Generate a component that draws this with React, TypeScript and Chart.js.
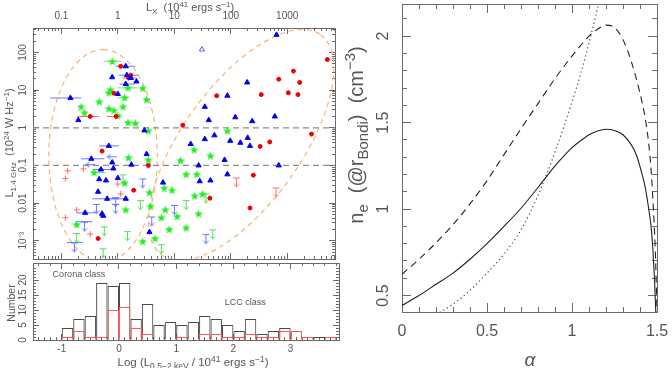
import React, { useEffect, useRef } from "react";
import { Chart, registerables } from "chart.js";

Chart.register(...registerables);

const FONT = "'Liberation Sans', Arial, sans-serif";
const AXIS_COLOR = "#6a6a6a";
const TEXT_COLOR = "#555555";
const BLUE = "#0000f0";
const RED = "#f00000";
const GREEN = "#22ee22";

// ================= LEFT: L1.4GHz vs L_X scatter =================
const LOGX_MIN = -1.503;
const LOGX_MAX = 3.846;
const LR_MIN = 3.27e-4;
const LR_MAX = 447;

// blue filled triangles (x = log L_X, y = L_1.4GHz)
const blueTriX = [2.81, 0.14, -0.1, 0.16, 0.23, 0.33, 0.14, 0.0, -0.84, 1.54, 1.94, 2.29, 1.61, 2.08, 2.38, 2.78, -0.7, 0.47, 1.29, 1.54, 1.71, 1.99, 2.17, 2.3, 2.34, -0.16, 0.51, -0.47, -0.1, 0.24, -0.3, -0.08, 1.43, 1.89, 2.85, -0.33, -0.21, 0.0, 0.8, 1.45, 1.64, 1.94, -0.35, -0.19, 0.14, -0.58, -0.28, -0.26, 0.56];
const blueTriY = [295, 43, 22, 25, 21, 17, 14.5, 7.9, 6.2, 3.6, 7.1, 16, 1.6, 1.9, 1.5, 2.0, 1.6, 0.85, 0.37, 0.5, 0.63, 0.45, 0.4, 0.54, 0.33, 0.33, 0.2, 0.15, 0.12, 0.105, 0.078, 0.083, 0.1, 0.14, 0.1, 0.043, 0.04, 0.046, 0.035, 0.038, 0.04, 0.058, 0.02, 0.013, 0.013, 0.0055, 0.0052, 0.0046, 0.0017];
// open blue triangle
const openTriX = [1.49];
const openTriY = [120];
// red circles
const redX = [0.05, 0.23, 0.19, -0.07, -0.49, -0.03, 1.15, 1.75, 2.54, 2.85, 3.11, 3.22, 3.02, 3.19, 3.71, -0.28, 0.54, 2.52, 2.69, 3.43, 2.4, 0.28, 1.63, 2.34, -0.35];
const redY = [43, 25, 21, 8.3, 2.0, 2.0, 1.17, 7.1, 7.6, 19.5, 32, 16, 8.5, 7.6, 65, 0.24, 0.1, 0.32, 0.42, 0.68, 0.055, 0.022, 0.0135, 0.0074, 0.00115];
// green stars
const greenX = [-0.1, 0.18, 0.44, -0.13, -0.16, 0.12, -0.33, 0.51, -0.65, -0.16, -0.07, 0.09, -0.59, 0.0, 0.18, 0.31, 0.54, 1.94, 1.35, 0.19, 0.54, 1.11, 1.64, -0.42, 1.21, 1.4, 0.12, 0.82, 0.96, 0.56, 1.36, 1.5, 0.58, 0.14, 0.84, 1.05, 0.77, 1.43, -0.73, 1.21, 0.91, 0.66, 0.44];
const greenY = [58, 11.5, 11.2, 10.2, 8.5, 6.3, 4.9, 5.6, 3.6, 3.2, 2.9, 3.6, 2.5, 2.1, 1.38, 1.32, 0.83, 0.83, 0.26, 0.16, 0.14, 0.135, 0.18, 0.065, 0.058, 0.058, 0.034, 0.025, 0.022, 0.019, 0.0155, 0.0174, 0.0083, 0.0066, 0.0066, 0.0044, 0.0041, 0.0052, 0.0027, 0.0022, 0.002, 0.00115, 0.00095];
// light red crosses
const plusX = [-0.89, -0.93, -0.61, 0.0, 0.05, -0.73, -0.93, -0.49];
const plusY = [0.072, 0.045, 0.081, 0.032, 0.0174, 0.0066, 0.0041, 0.0015];
// radio upper limits
const blueLimX = [0.44, -0.38, -0.04, 0.6, 1.0, -0.59, 1.56, -0.77, -0.04];
const blueLimY = [0.045, 0.0095, 0.0095, 0.0044, 0.0089, 0.0032, 0.0015, 0.0009, 0.0145];
const greenLimX = [0.09, 0.4, 1.21, -0.24, -0.73, 0.17, 1.56, 1.68, 0.77, -0.26];
const greenLimY = [0.058, 0.012, 0.012, 0.0024, 0.0016, 0.0018, 0.018, 0.002, 0.00081, 0.00063];
const redLimX = [2.1, 2.8];
const redLimY = [0.048, 0.026];
// X-ray upper limits (left arrows)
const blueLeftX = [-0.4, -0.02];
const blueLeftY = [0.105, 0.17];
// horizontal error bars
const blueErrY = [6.2, 43, 25, 14.5, 0.33, 0.15, 0.078, 0.013, 0.013, 0.0055, 0.0032, 0.0009];
const blueErrLo = [-1.2, -0.04, 0.02, 0.03, -0.33, -0.65, -0.45, -0.45, -0.12, -0.73, -0.75, -0.9];
const blueErrHi = [-0.65, 0.31, 0.37, 0.3, 0.02, -0.24, -0.1, 0.02, 0.19, -0.38, -0.45, -0.62];
const redErrY = [21, 2.0, 2.0];
const redErrLo = [0.08, -0.72, -0.19];
const redErrHi = [0.33, -0.33, 0.05];
const greenErrY = [58, 11.5, 0.065, 6.3];
const greenErrLo = [-0.24, 0.0, -0.45, 0.0];
const greenErrHi = [0.07, 0.35, -0.22, 0.2];
// reference levels
const refLevels = [1, 0.1];
// class ellipses: centre, end of major semi-axis, end of minor semi-axis (data coords)
const ellCX = [-0.262, 2.185];
const ellCY = [0.18, 0.349];
const ellMajX = [-0.262, 3.589];
const ellMajY = [119, 297];
const ellMinX = [0.699, 1.332];
const ellMinY = [0.18, 2.85];

// ================= LEFT-BOTTOM: histogram =================
const binCenters = [-1.1, -0.9, -0.7, -0.5, -0.3, -0.1, 0.1, 0.3, 0.5, 0.7, 0.9, 1.1, 1.3, 1.5, 1.7, 1.9, 2.1, 2.3, 2.5, 2.7, 2.9, 3.1, 3.3, 3.5, 3.7];
const histAll = [0, 4, 7, 8, 19, 18, 19, 7, 12, 5, 6, 5, 6, 8, 7, 5, 3, 7, 2, 3, 4, 3, 1, 1, 1];
const histLCC = [0, 1, 3, 1, 1, 10, 11, 4, 2, 0, 0, 1, 0, 2, 2, 1, 1, 2, 1, 1, 3, 3, 1, 0, 1];
const HIST_MAX = 25.67;

// ================= RIGHT: n_e vs alpha =================
const alphaSolid = [0, 0.1, 0.2, 0.3, 0.4, 0.5, 0.6, 0.7, 0.8, 0.9, 0.95, 1.0, 1.05, 1.1, 1.15, 1.2, 1.25, 1.3, 1.35, 1.38, 1.41, 1.43, 1.45, 1.465, 1.475, 1.485, 1.49, 1.493];
const neSolid = [0.443, 0.5, 0.565, 0.63, 0.71, 0.8, 0.9, 1.005, 1.125, 1.25, 1.305, 1.355, 1.395, 1.43, 1.452, 1.462, 1.455, 1.43, 1.37, 1.31, 1.21, 1.13, 1.01, 0.9, 0.78, 0.6, 0.48, 0.4];
const alphaDashed = [0, 0.1, 0.2, 0.3, 0.4, 0.5, 0.6, 0.7, 0.8, 0.9, 1.0, 1.05, 1.1, 1.15, 1.2, 1.25, 1.3, 1.35, 1.4, 1.43, 1.45, 1.465, 1.475, 1.485, 1.492, 1.497, 1.5];
const neDashed = [0.623, 0.71, 0.805, 0.91, 1.03, 1.165, 1.315, 1.465, 1.61, 1.755, 1.885, 1.945, 2.0, 2.04, 2.064, 2.05, 1.98, 1.85, 1.67, 1.53, 1.39, 1.23, 1.07, 0.88, 0.7, 0.52, 0.4];
const alphaDotted = [0.2, 0.3, 0.4, 0.5, 0.6, 0.7, 0.8, 0.9, 1.0, 1.05, 1.1, 1.15, 1.17];
const neDotted = [0.39, 0.45, 0.53, 0.63, 0.74, 0.88, 1.08, 1.33, 1.62, 1.78, 1.96, 2.16, 2.24];
const NE_MIN = 0.405;
const NE_MAX = 2.186;

// ================= ticks =================
const lxMajor = [0.1, 1, 10, 100, 1000];
const lxLabels = ["0.1", "1", "10", "100", "1000"];
const lrMajor = [1e-3, 0.01, 0.1, 1, 10, 100];
const lrLabels = ["10\u207B\u00B3", "0.01", "0.1", "1", "10", "100"];
const logLMajor = [-1, 0, 1, 2, 3];
const logLLabels = ["-1", "0", "1", "2", "3"];
const countMajor = [0, 5, 10, 15, 20];
const countLabels = ["0", "5", "10", "15", "20"];
const alphaMajor = [0, 0.5, 1, 1.5];
const alphaLabels = ["0", "0.5", "1", "1.5"];
const neMajor = [0.5, 1, 1.5, 2];
const neLabels = ["0.5", "1", "1.5", "2"];

function logMinor(min: number, max: number): number[] {
  const out: number[] = [];
  for (let e = -5; e <= 4; e++) for (let m = 2; m <= 9; m++) {
    const v = m * Math.pow(10, e);
    if (v >= min && v <= max) out.push(v);
  }
  return out;
}
function linMinor(min: number, max: number, step: number, major: number): number[] {
  const out: number[] = [];
  for (let i = Math.ceil(min / step - 1e-9); i * step <= max + 1e-9; i++) {
    const v = +(i * step).toFixed(6);
    const r = v / major;
    if (Math.abs(r - Math.round(r)) > 1e-6) out.push(v);
  }
  return out;
}

type AxDef = {
  type: "linear" | "logarithmic"; position: "left" | "right" | "top" | "bottom";
  min: number; max: number; ticks: number[]; labels?: string[]; size: number; tick: number;
  weight: number; font?: number; pad?: number; rotate?: boolean; border?: boolean;
};
function buildAxis(d: AxDef): any {
  const horizontal = d.position === "top" || d.position === "bottom";
  return {
    type: d.type, position: d.position, min: d.min, max: d.max, weight: d.weight,
    bounds: "data", offset: false,
    afterBuildTicks: (s: any) => { s.ticks = d.ticks.map((v) => ({ value: v })); },
    afterFit: (s: any) => {
      if (horizontal) s.height = d.size; else s.width = d.size;
      s.paddingTop = 0; s.paddingBottom = 0; s.paddingLeft = 0; s.paddingRight = 0;
    },
    grid: { display: true, offset: false, drawOnChartArea: false, drawTicks: true, tickLength: -d.tick, tickColor: AXIS_COLOR, tickWidth: 1, color: AXIS_COLOR },
    border: { display: d.border !== false, color: AXIS_COLOR, width: 1 },
    title: { display: false },
    ticks: d.labels
      ? { display: true, autoSkip: false, callback: (_v: any, i: number) => d.labels![i], font: { family: FONT, size: d.font }, color: TEXT_COLOR, padding: d.pad, minRotation: d.rotate ? 90 : 0, maxRotation: d.rotate ? 90 : 0, crossAlign: d.rotate ? "center" : "near" }
      : { display: false },
  };
}

type Part = { t: string; s: number; dy?: number; it?: boolean };
type Rich = { x: number; y: number; rot?: number; parts: Part[]; align?: "center" | "left"; color?: string };
const fontOf = (p: Part) => `${p.it ? "italic " : ""}${p.s}px ${FONT}`;
function drawRich(ctx: CanvasRenderingContext2D, L: Rich) {
  ctx.save();
  ctx.translate(L.x, L.y);
  if (L.rot) ctx.rotate(L.rot);
  ctx.fillStyle = L.color || TEXT_COLOR;
  ctx.textBaseline = "alphabetic";
  ctx.textAlign = "left";
  const main = Math.max(...L.parts.map((p) => p.s));
  const widths = L.parts.map((p) => { ctx.font = fontOf(p); return ctx.measureText(p.t).width; });
  const total = widths.reduce((a, b) => a + b, 0);
  let x = L.align === "left" ? 0 : -total / 2;
  const base = main * 0.36;
  L.parts.forEach((p, i) => { ctx.font = fontOf(p); ctx.fillText(p.t, x, base + (p.dy || 0)); x += widths[i]; });
  ctx.restore();
}
function richPlugin(id: string, items: Array<Rich | ((c: any) => Rich)>) {
  return { id, afterDraw(chart: any) { items.forEach((it) => drawRich(chart.ctx, typeof it === "function" ? it(chart) : it)); } };
}

const pts = (xs: number[], ys: number[]) => xs.map((x, i) => ({ x, y: ys[i] }));
const bars = (ys: number[], lo: number[], hi: number[]) => {
  const out: any[] = [];
  ys.forEach((y, i) => { out.push({ x: lo[i], y }, { x: hi[i], y }, { x: hi[i], y: null }); });
  return out;
};

function glyph(w: number, h: number, draw: (g: CanvasRenderingContext2D) => void) {
  const c = document.createElement("canvas");
  c.width = w; c.height = h;
  draw(c.getContext("2d")!);
  return c;
}
const starGlyph = (color: string) => glyph(9, 9, (g) => {
  g.beginPath();
  for (let i = 0; i < 10; i++) {
    const a = -Math.PI / 2 + (i * Math.PI) / 5;
    const r = i % 2 === 0 ? 4.5 : 1.9;
    const x = 4.5 + r * Math.cos(a), y = 4.8 + r * Math.sin(a);
    if (i === 0) g.moveTo(x, y); else g.lineTo(x, y);
  }
  g.closePath(); g.fillStyle = color; g.fill();
});
const downGlyph = (color: string) => glyph(9, 24, (g) => {
  g.strokeStyle = color; g.lineWidth = 1;
  g.beginPath();
  g.moveTo(1, 12.5); g.lineTo(8, 12.5);
  g.moveTo(4.5, 12.5); g.lineTo(4.5, 21.5);
  g.moveTo(2, 18.5); g.lineTo(4.5, 21.5); g.lineTo(7, 18.5);
  g.stroke();
});
const leftGlyph = (color: string) => glyph(24, 9, (g) => {
  g.strokeStyle = color; g.lineWidth = 1;
  g.beginPath();
  g.moveTo(12, 4.5); g.lineTo(3, 4.5);
  g.moveTo(6, 2); g.lineTo(2.5, 4.5); g.lineTo(6, 7);
  g.stroke();
});

const ellipsePlugin = {
  id: "ellipses",
  beforeDatasetsDraw(chart: any) {
    const { ctx, chartArea, scales } = chart;
    const xs = scales.x, ys = scales.y;
    ctx.save();
    ctx.beginPath();
    ctx.rect(chartArea.left, chartArea.top, chartArea.right - chartArea.left, chartArea.bottom - chartArea.top);
    ctx.clip();
    ctx.strokeStyle = "#f5b47a"; ctx.lineWidth = 1.2; ctx.setLineDash([5, 4]);
    for (let i = 0; i < ellCX.length; i++) {
      const cx = xs.getPixelForValue(ellCX[i]), cy = ys.getPixelForValue(ellCY[i]);
      const ax = xs.getPixelForValue(ellMajX[i]), ay = ys.getPixelForValue(ellMajY[i]);
      const bx = xs.getPixelForValue(ellMinX[i]), by = ys.getPixelForValue(ellMinY[i]);
      const a = Math.hypot(ax - cx, ay - cy), b = Math.hypot(bx - cx, by - cy);
      ctx.beginPath();
      ctx.ellipse(cx, cy, a, b, Math.atan2(ay - cy, ax - cx), 0, Math.PI * 2);
      ctx.stroke();
    }
    ctx.restore();
  },
};

export default function App() {
  const r1 = useRef<HTMLCanvasElement>(null);
  const r2 = useRef<HTMLCanvasElement>(null);
  const r3 = useRef<HTMLCanvasElement>(null);

  useEffect(() => {
    const charts: Chart[] = [];
    const LX_MIN = Math.pow(10, LOGX_MIN), LX_MAX = Math.pow(10, LOGX_MAX);
    const lxMinor = logMinor(LX_MIN, LX_MAX);
    const lrMinor = logMinor(LR_MIN, LR_MAX);
    const star = starGlyph(GREEN);
    const base = { responsive: false, animation: false, devicePixelRatio: 1, layout: { padding: 0 }, plugins: { legend: { display: false }, tooltip: { enabled: false } }, events: [] };
    const XY = { xAxisID: "x", yAxisID: "y" };

    // ---------- scatter ----------
    const lineDs = (data: any[], color: string, dash: number[] = [], width = 1) => ({ ...XY, data, showLine: true, pointRadius: 0, borderColor: color, borderWidth: width, borderDash: dash, spanGaps: false, fill: false });
    const scatterCfg: any = {
      type: "scatter",
      data: {
        datasets: [
          { ...XY, data: pts(blueTriX, blueTriY), pointStyle: "triangle", pointRadius: 3, backgroundColor: BLUE, borderColor: BLUE, borderWidth: 1 },
          { ...XY, data: pts(openTriX, openTriY), pointStyle: "triangle", pointRadius: 3, backgroundColor: "rgba(0,0,0,0)", borderColor: "#5a5aff", borderWidth: 1 },
          { ...XY, data: pts(redX, redY), pointStyle: "circle", pointRadius: 2, backgroundColor: RED, borderColor: RED, borderWidth: 1 },
          { ...XY, data: pts(greenX, greenY), pointStyle: star, pointRadius: 3 },
          { ...XY, data: pts(plusX, plusY), pointStyle: "cross", pointRadius: 3, borderColor: "#ff6a6a", borderWidth: 1 },
          { ...XY, data: pts(blueLimX, blueLimY), pointStyle: downGlyph("#6a78ff"), pointRadius: 3 },
          { ...XY, data: pts(greenLimX, greenLimY), pointStyle: downGlyph("#5cdc5c"), pointRadius: 3 },
          { ...XY, data: pts(redLimX, redLimY), pointStyle: downGlyph("#ff7070"), pointRadius: 3 },
          { ...XY, data: pts(blueLeftX, blueLeftY), pointStyle: leftGlyph("#6a78ff"), pointRadius: 3 },
          lineDs(bars(blueErrY, blueErrLo, blueErrHi), "#6a78ff"),
          lineDs(bars(redErrY, redErrLo, redErrHi), "#ff6060"),
          lineDs(bars(greenErrY, greenErrLo, greenErrHi), "#66ee66"),
          ...refLevels.map((v) => lineDs([{ x: LOGX_MIN, y: v }, { x: LOGX_MAX, y: v }], "#8c8c8c", [6, 4], 1.2)),
        ],
      },
      options: {
        ...base,
        scales: {
          x: buildAxis({ type: "linear", position: "bottom", min: LOGX_MIN, max: LOGX_MAX, ticks: logLMajor, size: 1, tick: 6, weight: 1 }),
          y: buildAxis({ type: "logarithmic", position: "left", min: LR_MIN, max: LR_MAX, ticks: lrMajor, labels: lrLabels, size: 33, tick: 6, weight: 1, font: 10, pad: 5.75, rotate: true }),
          xTop: buildAxis({ type: "logarithmic", position: "top", min: LX_MIN, max: LX_MAX, ticks: lxMajor, labels: lxLabels, size: 28, tick: 6, weight: 1, font: 10, pad: 12 }),
          xTopMinor: buildAxis({ type: "logarithmic", position: "top", min: LX_MIN, max: LX_MAX, ticks: lxMinor, size: 0, tick: 3, weight: 0, border: false }),
          xMinor: buildAxis({ type: "linear", position: "bottom", min: LOGX_MIN, max: LOGX_MAX, ticks: lxMinor.map((v) => Math.log10(v)), size: 0, tick: 3, weight: 0, border: false }),
          yMinor: buildAxis({ type: "logarithmic", position: "left", min: LR_MIN, max: LR_MAX, ticks: lrMinor, size: 0, tick: 3, weight: 0, border: false }),
          yRight: buildAxis({ type: "logarithmic", position: "right", min: LR_MIN, max: LR_MAX, ticks: lrMajor, size: 1, tick: 6, weight: 1 }),
          yRightMinor: buildAxis({ type: "logarithmic", position: "right", min: LR_MIN, max: LR_MAX, ticks: lrMinor, size: 0, tick: 3, weight: 0, border: false }),
        },
      },
      plugins: [
        ellipsePlugin,
        richPlugin("scTitles", [
          { x: 190, y: 7, parts: [{ t: "L", s: 11 }, { t: "X", s: 8, dy: 3 }, { t: "  (10", s: 11 }, { t: "41", s: 8, dy: -4 }, { t: " ergs s", s: 11 }, { t: "\u22121", s: 8, dy: -4 }, { t: ")", s: 11 }] },
          { x: 9, y: 143, rot: -Math.PI / 2, parts: [{ t: "L", s: 11 }, { t: "1.4 GHz", s: 8, dy: 3 }, { t: "  (10", s: 11 }, { t: "24", s: 8, dy: -4 }, { t: " W Hz", s: 11 }, { t: "\u22121", s: 8, dy: -4 }, { t: ")", s: 11 }] },
        ]),
      ],
    };
    charts.push(new Chart(r1.current!, scatterCfg));

    // ---------- histogram ----------
    const barDs = (ys: number[], color: string) => ({ ...XY, data: binCenters.map((c, i) => ({ x: c, y: ys[i] })), backgroundColor: "rgba(0,0,0,0)", borderColor: color, borderWidth: 1, borderSkipped: "start", inflateAmount: 0, grouped: false, barPercentage: 1, categoryPercentage: 1 });
    const histCfg: any = {
      type: "bar",
      data: { datasets: [barDs(histLCC, "#ff5a5a"), barDs(histAll, "#4a4a4a")] },
      options: {
        ...base,
        scales: {
          x: buildAxis({ type: "linear", position: "bottom", min: LOGX_MIN, max: LOGX_MAX, ticks: logLMajor, labels: logLLabels, size: 28, tick: 6, weight: 1, font: 10, pad: 9 }),
          y: buildAxis({ type: "linear", position: "left", min: 0, max: HIST_MAX, ticks: countMajor, labels: countLabels, size: 33, tick: 6, weight: 1, font: 10, pad: 10, rotate: true }),
          xMinor: buildAxis({ type: "linear", position: "bottom", min: LOGX_MIN, max: LOGX_MAX, ticks: linMinor(LOGX_MIN, LOGX_MAX, 0.1, 1), size: 0, tick: 3, weight: 0, border: false }),
          xTop: buildAxis({ type: "linear", position: "top", min: LOGX_MIN, max: LOGX_MAX, ticks: logLMajor, size: 1, tick: 6, weight: 1 }),
          xTopMinor: buildAxis({ type: "linear", position: "top", min: LOGX_MIN, max: LOGX_MAX, ticks: linMinor(LOGX_MIN, LOGX_MAX, 0.2, 1), size: 0, tick: 3, weight: 0, border: false }),
          yMinor: buildAxis({ type: "linear", position: "left", min: 0, max: HIST_MAX, ticks: linMinor(0, HIST_MAX, 1, 5), size: 0, tick: 3, weight: 0, border: false }),
          yRight: buildAxis({ type: "linear", position: "right", min: 0, max: HIST_MAX, ticks: countMajor, size: 1, tick: 6, weight: 1 }),
          yRightMinor: buildAxis({ type: "linear", position: "right", min: 0, max: HIST_MAX, ticks: linMinor(0, HIST_MAX, 1, 5), size: 0, tick: 3, weight: 0, border: false }),
        },
      },
      plugins: [
        richPlugin("hiTitles", [
          { x: 11, y: 41, rot: -Math.PI / 2, parts: [{ t: "Number", s: 10.5 }] },
          { x: 193, y: 100, parts: [{ t: "Log (L", s: 11.5 }, { t: "0.5\u22122 keV", s: 8.5, dy: 3 }, { t: " / 10", s: 11.5 }, { t: "41", s: 8.5, dy: -4.5 }, { t: " ergs s", s: 11.5 }, { t: "\u22121", s: 8.5, dy: -4.5 }, { t: ")", s: 11.5 }] },
          (c: any) => ({ x: c.scales.x.getPixelForValue(-1.16), y: c.scales.y.getPixelForValue(22.1), align: "left", parts: [{ t: "Corona class", s: 9 }] }),
          (c: any) => ({ x: c.scales.x.getPixelForValue(1.85), y: c.scales.y.getPixelForValue(12.8), align: "left", parts: [{ t: "LCC class", s: 9 }] }),
        ]),
      ],
    };
    charts.push(new Chart(r2.current!, histCfg));

    // ---------- right panel ----------
    const curve = (xs: number[], ys: number[], dash: number[], color: string, w: number) => ({ ...XY, data: pts(xs, ys), showLine: true, pointRadius: 0, borderColor: color, borderWidth: w, borderDash: dash, cubicInterpolationMode: "monotone", fill: false });
    const aMinor = linMinor(0, 1.5, 0.1, 0.5);
    const nMinor = linMinor(NE_MIN, NE_MAX, 0.1, 0.5);
    const rightCfg: any = {
      type: "scatter",
      data: {
        datasets: [
          curve(alphaSolid, neSolid, [], "#222222", 1.1),
          curve(alphaDashed, neDashed, [7, 5], "#222222", 1.1),
          curve(alphaDotted, neDotted, [1.2, 3], "#444444", 1.2),
        ],
      },
      options: {
        ...base,
        scales: {
          x: buildAxis({ type: "linear", position: "bottom", min: 0, max: 1.5, ticks: alphaMajor, labels: alphaLabels, size: 56, tick: 9, weight: 1, font: 16, pad: 19.4 }),
          y: buildAxis({ type: "linear", position: "left", min: NE_MIN, max: NE_MAX, ticks: neMajor, labels: neLabels, size: 62, tick: 9, weight: 1, font: 16, pad: 16.4, rotate: true }),
          xMinor: buildAxis({ type: "linear", position: "bottom", min: 0, max: 1.5, ticks: aMinor, size: 0, tick: 5, weight: 0, border: false }),
          xTop: buildAxis({ type: "linear", position: "top", min: 0, max: 1.5, ticks: alphaMajor, size: 4, tick: 9, weight: 1 }),
          xTopMinor: buildAxis({ type: "linear", position: "top", min: 0, max: 1.5, ticks: aMinor, size: 0, tick: 5, weight: 0, border: false }),
          yMinor: buildAxis({ type: "linear", position: "left", min: NE_MIN, max: NE_MAX, ticks: nMinor, size: 0, tick: 5, weight: 0, border: false }),
          yRight: buildAxis({ type: "linear", position: "right", min: NE_MIN, max: NE_MAX, ticks: neMajor, size: 15, tick: 9, weight: 1 }),
          yRightMinor: buildAxis({ type: "linear", position: "right", min: NE_MIN, max: NE_MAX, ticks: nMinor, size: 0, tick: 5, weight: 0, border: false }),
        },
      },
      plugins: [
        richPlugin("rtTitles", [
          { x: 16, y: 135, rot: -Math.PI / 2, parts: [{ t: "n", s: 20 }, { t: "e", s: 15, dy: 5 }, { t: "  (@r", s: 20 }, { t: "Bondi", s: 15, dy: 5 }, { t: ")  (cm", s: 20 }, { t: "\u22123", s: 15, dy: -8 }, { t: ")", s: 20 }] },
          { x: 190, y: 359, parts: [{ t: "\u03B1", s: 19, it: true }] },
        ]),
      ],
    };
    charts.push(new Chart(r3.current!, rightCfg));

    return () => charts.forEach((c) => c.destroy());
  }, []);

  return (
    <div style={{ position: "fixed", left: 0, top: 0, width: 672, height: 368, background: "#ffffff", overflow: "hidden" }}>
      <canvas ref={r1} width={340} height={264} style={{ position: "absolute", left: 0, top: 0, width: 340, height: 264 }} />
      <canvas ref={r2} width={340} height={106} style={{ position: "absolute", left: 0, top: 262, width: 340, height: 106 }} />
      <canvas ref={r3} width={332} height={368} style={{ position: "absolute", left: 340, top: 0, width: 332, height: 368 }} />
    </div>
  );
}
